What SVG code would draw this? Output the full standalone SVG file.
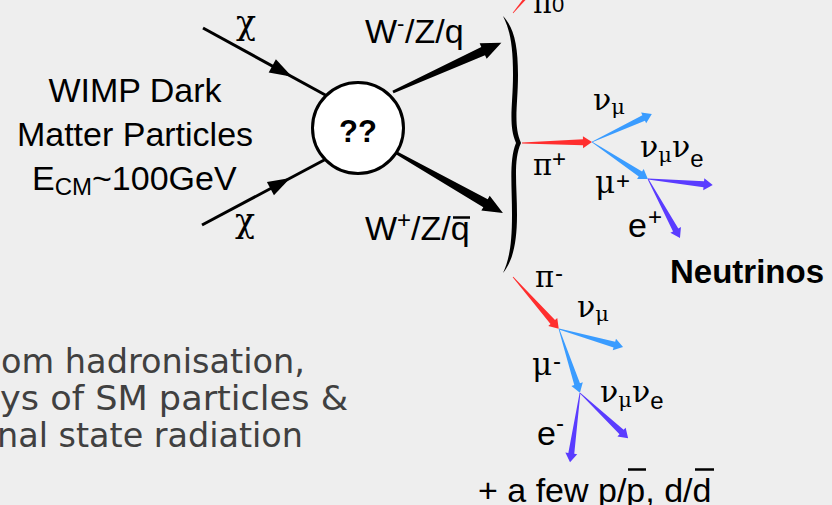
<svg xmlns="http://www.w3.org/2000/svg" width="832" height="505" viewBox="0 0 832 505">
<style>
.s{font-family:"Liberation Sans",Arial,sans-serif;fill:#000}
.g{font-family:"DejaVu Serif","Liberation Serif",serif;fill:#000}
.ss{font-family:"Liberation Sans",Arial,sans-serif}
.c{font-family:"DejaVu Sans","Liberation Sans",sans-serif;fill:#404040;font-size:34px}
.red{fill:#ff2e2e}
.blue{fill:#3a9cff}
.pur{fill:#5a3cff}
.blk{fill:#000}
.ln{stroke:#000;stroke-width:3;fill:none}
</style>
<rect width="832" height="505" fill="#eeeeee"/>

<g id="connectors">
  <g transform="translate(203,28) rotate(28.7)">
    <line class="ln" x1="0" y1="0" x2="141" y2="0"/>
    <path class="blk" d="M79,-7.5 L101.5,0 L79,7.5 Z"/>
  </g>
  <g transform="translate(202,225) rotate(-28)">
    <line class="ln" x1="0" y1="0" x2="140" y2="0"/>
    <path class="blk" d="M77.5,-7.5 L100,0 L77.5,7.5 Z"/>
  </g>
  <path class="blk" transform="translate(393,92) rotate(-24.4)" d="M0,-1.5 L99,-4.5 L99,-8.5 L119,0 L99,8.5 L99,4.5 L0,1.5 Z"/>
  <path class="blk" transform="translate(395,152) rotate(29.5)" d="M0,-1.5 L104,-4.5 L104,-8.5 L124,0 L104,8.5 L104,4.5 L0,1.5 Z"/>
  <path class="blk" d="M503,16 C514,28 518,45 518,75 C518,105 513,125 521,143 C513,160 517,185 517,215 C517,245 512,262 503,273 C509,260 512,245 512,215 C512,185 509,160 516,143 C508,125 513,105 513,75 C513,45 510,30 503,16 Z"/>
  <path class="red" transform="translate(513,13) rotate(-50)" d="M0,-0.3 L24,-1.5 L24,1.5 L0,0.3 Z"/>
  <path class="red" transform="translate(522,143) rotate(-0.8)" d="M0,-0.4 L61,-3 L61,-6 L70,0 L61,6 L61,3 L0,0.4 Z"/>
  <path class="blue" transform="translate(592,142) rotate(-25)" d="M0,-0.4 L57,-3 L57,-6 L66,0 L57,6 L57,3 L0,0.4 Z"/>
  <path class="blue" transform="translate(592,142) rotate(33.5)" d="M0,-0.4 L58,-3 L58,-6 L67,0 L58,6 L58,3 L0,0.4 Z"/>
  <path class="pur" transform="translate(648,179) rotate(5.3)" d="M0,-0.4 L56,-3 L56,-6 L65,0 L56,6 L56,3 L0,0.4 Z"/>
  <path class="pur" transform="translate(648,179) rotate(61.5)" d="M0,-0.4 L58,-3 L58,-6 L67,0 L58,6 L58,3 L0,0.4 Z"/>
  <path class="red" transform="translate(513,277) rotate(48.5)" d="M0,-0.4 L60,-3 L60,-6 L69,0 L60,6 L60,3 L0,0.4 Z"/>
  <path class="blue" transform="translate(559,329) rotate(15.7)" d="M0,-0.4 L57.5,-3 L57.5,-6 L66.5,0 L57.5,6 L57.5,3 L0,0.4 Z"/>
  <path class="blue" transform="translate(559,329) rotate(71.8)" d="M0,-0.4 L58,-3 L58,-6 L67,0 L58,6 L58,3 L0,0.4 Z"/>
  <path class="pur" transform="translate(580,393) rotate(43.2)" d="M0,-0.4 L57,-3 L57,-6 L66,0 L57,6 L57,3 L0,0.4 Z"/>
  <path class="pur" transform="translate(580,393) rotate(98.2)" d="M0,-0.4 L61,-3 L61,-6 L70,0 L61,6 L61,3 L0,0.4 Z"/>
</g>

<g id="wimp-label">
  <text class="s" font-size="34" text-anchor="middle" x="135" y="102">WIMP Dark</text>
  <text class="s" font-size="34" text-anchor="middle" x="135" y="146">Matter Particles</text>
  <text class="s" font-size="34" x="32" y="190">E<tspan font-size="24" dy="5">CM</tspan><tspan dy="-5">~100GeV</tspan></text>
</g>

<g id="chi-labels">
  <text class="g" font-size="33" x="236" y="34">χ</text>
  <text class="g" font-size="33" x="235" y="232">χ</text>
</g>

<g id="vertex">
  <circle cx="358" cy="128" r="45.5" fill="#fff" stroke="#000" stroke-width="3"/>
  <text class="s" font-size="31" font-weight="bold" text-anchor="middle" x="358" y="142">??</text>
</g>

<g id="boson-labels">
  <text class="s" font-size="34" x="365" y="43">W<tspan font-size="22" y="31">-</tspan><tspan font-size="34" x="405" y="43">/Z/q</tspan></text>
  <text class="s" font-size="34" x="365" y="240">W<tspan font-size="24" y="228">+</tspan><tspan font-size="34" x="411" y="240">/Z/q</tspan></text>
  <line x1="453" y1="217.5" x2="470" y2="217.5" stroke="#000" stroke-width="2.5"/>
</g>

<g id="pi0">
  <text class="g" font-size="29" x="533" y="13">π</text>
  <text class="s" font-size="22" x="552" y="12">0</text>
</g>

<g id="piplus-chain">
  <text class="g" font-size="29" x="533" y="175">π</text>
  <text class="s" font-size="24" x="552" y="167">+</text>
  <text class="g" font-size="30" x="593" y="110">ν<tspan font-size="21" y="114">μ</tspan></text>
  <text class="g" font-size="31" x="595" y="193">μ</text>
  <text class="s" font-size="24" x="616" y="189">+</text>
  <text class="g" font-size="30" x="640" y="157">ν<tspan font-size="21" y="162">μ</tspan><tspan font-size="30" y="157">ν</tspan><tspan class="ss" font-size="24" y="167">e</tspan></text>
  <text class="s" font-size="34" x="628" y="237">e</text>
  <text class="s" font-size="24" x="648" y="225">+</text>
</g>

<g id="neutrinos">
  <text class="s" font-size="33" font-weight="bold" x="670" y="283">Neutrinos</text>
</g>

<g id="piminus-chain">
  <text class="g" font-size="29" x="535" y="287">π</text>
  <text class="s" font-size="24" x="555" y="281">-</text>
  <text class="g" font-size="30" x="577" y="317">ν<tspan font-size="21" y="321">μ</tspan></text>
  <text class="g" font-size="31" x="532" y="375">μ</text>
  <text class="s" font-size="24" x="553" y="369">-</text>
  <text class="g" font-size="30" x="600" y="402">ν<tspan font-size="21" y="407">μ</tspan><tspan font-size="30" y="402">ν</tspan><tspan class="ss" font-size="24" y="409">e</tspan></text>
  <text class="s" font-size="34" x="537" y="445">e</text>
  <text class="s" font-size="24" x="556" y="431">-</text>
</g>

<g id="footer">
  <text class="s" font-size="34" x="478" y="502">+ a few p/p, d/d</text>
  <line x1="628" y1="469.5" x2="646" y2="469.5" stroke="#000" stroke-width="2.5"/>
  <line x1="695" y1="469.5" x2="714" y2="469.5" stroke="#000" stroke-width="2.5"/>
</g>

<g id="note">
  <text class="c" x="1" y="373" textLength="304" lengthAdjust="spacingAndGlyphs">om hadronisation,</text>
  <text class="c" x="0" y="410" textLength="348" lengthAdjust="spacingAndGlyphs">ys of SM particles &amp;</text>
  <text class="c" x="-3" y="447" textLength="306" lengthAdjust="spacingAndGlyphs">nal state radiation</text>
</g>
</svg>
